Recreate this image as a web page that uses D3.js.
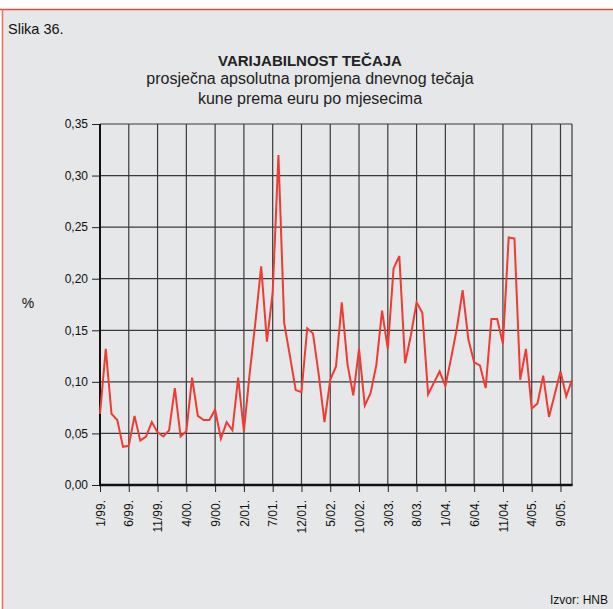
<!DOCTYPE html>
<html><head><meta charset="utf-8">
<script src="https://cdn.jsdelivr.net/npm/d3@7"></script>
<style>body{margin:0;background:#fff;}svg{display:block;font-family:"Liberation Sans",Arial,sans-serif;}</style>
</head><body><svg id="c" width="613" height="609"></svg>
<script>
const values = [0.069,0.132,0.069,0.063,0.037,0.038,0.067,0.043,0.047,0.061,
0.051,0.047,0.053,0.094,0.047,0.052,0.104,0.067,0.063,0.063,
0.073,0.045,0.061,0.053,0.104,0.052,0.108,0.158,0.212,0.139,
0.187,0.320,0.157,0.125,0.092,0.090,0.152,0.147,0.107,0.061,
0.102,0.115,0.177,0.117,0.087,0.132,0.077,0.089,0.116,0.169,
0.132,0.210,0.222,0.118,0.145,0.177,0.167,0.088,0.099,0.110,
0.096,0.123,0.152,0.189,0.141,0.119,0.116,0.094,0.161,0.161,
0.137,0.240,0.239,0.102,0.132,0.074,0.079,0.106,0.066,0.088,
0.110,0.086,0.102];
const xTickLabels = ["1/99.","6/99.","11/99.","4/00.","9/00.","2/01.","7/01.","12/01.","5/02.","10/02.","3/03.","8/03.","1/04.","6/04.","11/04.","4/05.","9/05."];
const yTicks = [0,0.05,0.10,0.15,0.20,0.25,0.30,0.35];

const svg = d3.select("#c");
svg.append("rect").attr("x",2).attr("y",9).attr("width",611).attr("height",600).attr("fill","#e6e7e8");
svg.append("line").attr("x1",0).attr("x2",613).attr("y1",9.5).attr("y2",9.5).attr("stroke","#e8473a").attr("stroke-width",1.5);
svg.append("line").attr("x1",2.5).attr("x2",2.5).attr("y1",9).attr("y2",609).attr("stroke","#f06a5e").attr("stroke-width",1.5);

svg.append("text").attr("x",8).attr("y",34).attr("font-size",14.5).attr("fill","#111").text("Slika 36.");
svg.append("text").attr("x",310).attr("y",66).attr("text-anchor","middle").attr("font-size",15).attr("font-weight","bold").attr("fill","#222").text("VARIJABILNOST TEČAJA");
svg.append("text").attr("x",310).attr("y",84).attr("text-anchor","middle").attr("font-size",16).attr("fill","#222").text("prosječna apsolutna promjena dnevnog tečaja");
svg.append("text").attr("x",310).attr("y",104).attr("text-anchor","middle").attr("font-size",16).attr("fill","#222").text("kune prema euru po mjesecima");

const L=100, R=572, T=124, B=485;
const x = d3.scaleLinear().domain([0, values.length-1]).range([L,R]);
const y = d3.scaleLinear().domain([0,0.35]).range([B,T]);
const tickIdx = xTickLabels.map((d,i)=>i*5);

const g = svg.append("g");
g.selectAll(".vg").data(tickIdx.slice(1)).join("line")
 .attr("x1",d=>x(d)).attr("x2",d=>x(d)).attr("y1",T).attr("y2",B)
 .attr("stroke","#3a3a3a").attr("stroke-width",1.2);
g.append("line").attr("x1",R).attr("x2",R).attr("y1",T).attr("y2",B).attr("stroke","#3a3a3a").attr("stroke-width",1.2);
g.selectAll(".hg").data(yTicks.slice(1)).join("line")
 .attr("x1",L).attr("x2",R).attr("y1",d=>y(d)).attr("y2",d=>y(d))
 .attr("stroke","#3a3a3a").attr("stroke-width",1.2);

const yAxis = d3.axisLeft(y).tickValues(yTicks).tickSize(8).tickPadding(4)
  .tickFormat(d=>d3.format(".2f")(d).replace(".",","));
const ya = svg.append("g").attr("transform",`translate(${L},0)`).call(yAxis);
ya.select(".domain").remove();
ya.selectAll(".tick line").attr("stroke","#222");
ya.selectAll("text").attr("font-size",12).attr("fill","#111").attr("font-family","Liberation Sans, Arial, sans-serif");

const xAxis = d3.axisBottom(x).tickValues(tickIdx).tickSize(7).tickFormat((d,i)=>xTickLabels[i]);
const xa = svg.append("g").attr("transform",`translate(0,${B})`).call(xAxis);
xa.select(".domain").remove();
xa.selectAll(".tick line").attr("stroke","#222");
xa.selectAll("text").attr("font-size",12).attr("fill","#111").attr("font-family","Liberation Sans, Arial, sans-serif")
  .attr("transform","rotate(-90)").attr("text-anchor","end").attr("dy","0.35em").attr("x",-15).attr("y",0);

svg.append("line").attr("x1",L).attr("x2",L).attr("y1",T).attr("y2",B+1).attr("stroke","#111").attr("stroke-width",2);
svg.append("line").attr("x1",L-1).attr("x2",R+0.6).attr("y1",B).attr("y2",B).attr("stroke","#111").attr("stroke-width",2.5);

svg.append("path").datum(values)
 .attr("fill","none").attr("stroke","#ee3b33").attr("stroke-width",2).attr("stroke-linejoin","miter")
 .attr("d", d3.line().x((d,i)=>x(i)).y(d=>y(d)));

svg.append("text").attr("x",608).attr("y",604).attr("text-anchor","end").attr("font-size",12).attr("fill","#111").text("Izvor: HNB");
svg.append("text").attr("x",28).attr("y",308).attr("text-anchor","middle").attr("font-size",14).attr("fill","#111").text("%");
</script></body></html>
